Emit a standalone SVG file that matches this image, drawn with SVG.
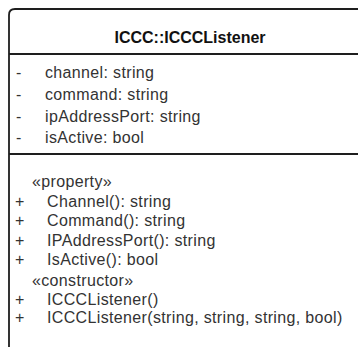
<svg xmlns="http://www.w3.org/2000/svg" width="358" height="347" viewBox="0 0 358 347">
<style>
.t{font-family:"Liberation Sans",Arial,sans-serif;font-size:16px;letter-spacing:0.35px;fill:#333}
.title{font-family:"Liberation Sans",Arial,sans-serif;font-size:16px;font-weight:bold;fill:#111}
.ln{stroke:#1e1e1e;stroke-width:1.8;fill:none}
</style>
<defs>
<linearGradient id="g" x1="0" y1="0" x2="1" y2="0">
<stop offset="0" stop-color="#e7e7e7"/>
<stop offset="1" stop-color="#eeeeee"/>
</linearGradient>
</defs>
<rect width="358" height="347" fill="#ffffff"/>
<g id="ICCCListener">
<path d="M9,360 V15 Q9,9 15,9 H370 V360 Z" fill="url(#g)" class="ln"/>
<line x1="9" y1="54" x2="358" y2="54" class="ln"/>
<line x1="9" y1="154" x2="358" y2="154" class="ln"/>
<text x="190" y="43" text-anchor="middle" class="title">ICCC::ICCCListener</text>
<text x="16" y="78" class="t">-</text><text x="45" y="78" class="t">channel: string</text>
<text x="16" y="100" class="t">-</text><text x="45" y="100" class="t">command: string</text>
<text x="16" y="122" class="t">-</text><text x="45" y="122" class="t">ipAddressPort: string</text>
<text x="16" y="143" class="t">-</text><text x="45" y="143" class="t">isActive: bool</text>
<text x="32" y="187" class="t">«property»</text>
<text x="15" y="207" class="t">+</text><text x="47" y="207" class="t">Channel(): string</text>
<text x="15" y="226" class="t">+</text><text x="47" y="226" class="t">Command(): string</text>
<text x="15" y="246" class="t">+</text><text x="47" y="246" class="t">IPAddressPort(): string</text>
<text x="15" y="265" class="t">+</text><text x="47" y="265" class="t">IsActive(): bool</text>
<text x="32" y="286" class="t">«constructor»</text>
<text x="15" y="305" class="t">+</text><text x="47" y="305" class="t">ICCCListener()</text>
<text x="15" y="323" class="t">+</text><text x="47" y="323" class="t">ICCCListener(string, string, string, bool)</text>
</g>
<g id="connectors"/>
</svg>
